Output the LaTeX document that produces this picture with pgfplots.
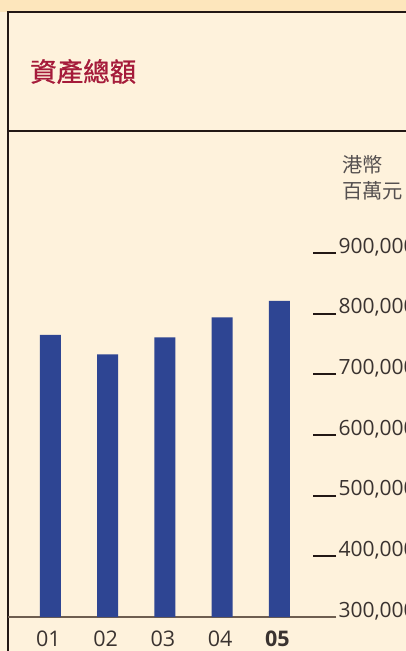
\documentclass[border=0pt]{standalone}
\usepackage{pgfplots}
\pgfplotsset{compat=1.18}
\usepackage{fontspec}
\setmainfont{Open Sans}
\newfontfamily\cjk{Noto Sans CJK TC}
\newfontfamily\cjkb[FakeBold=0.9]{Noto Sans CJK TC}
\definecolor{bgin}{HTML}{FEF2DC}
\definecolor{bgtop}{HTML}{FDE6BC}
\definecolor{frame}{HTML}{231815}
\definecolor{barblue}{HTML}{2E4593}
\definecolor{titlered}{HTML}{A51B3A}
\definecolor{axisgray}{HTML}{6E5E50}
\definecolor{txt}{HTML}{3A3330}
\definecolor{unitgray}{HTML}{555050}
\begin{document}
\begin{tikzpicture}[x=1pt,y=1pt]
\clip (0,0) rectangle (406,651);
\fill[bgin] (0,0) rectangle (406,651);
\fill[bgtop] (0,639) rectangle (406,651);
\draw[frame,line width=1.4pt] (8,0) -- (8,639) -- (406,639);
\draw[frame,line width=1.8pt] (8,520) -- (406,520);
\node[anchor=west,inner sep=0,text=titlered,font=\cjkb\fontsize{26.5}{30}\selectfont] at (30,579.5) {資產總額};
\node[anchor=north west,inner sep=0,text=unitgray,align=left,font=\cjk\fontsize{20.3}{26.5}\selectfont] at (342,496) {港幣\\百萬元};
\begin{axis}[
  at={(8pt,34pt)}, anchor=south west,
  scale only axis, width=328pt, height=364pt,
  xmin=-0.742, xmax=4.987, ymin=300000, ymax=900000,
  axis x line=bottom, axis y line=right,
  x axis line style={draw=axisgray,line width=1.3pt,-},
  y axis line style={draw=none},
  xtick={0,1,2,3,4},
  xticklabels={01,02,03,04,\textbf{05}},
  major x tick style={draw=none},
  xticklabel style={anchor=base,yshift=-29pt,xshift=-2pt,text=txt,font=\fontsize{21.5}{24}\selectfont},
  ytick={300000,400000,500000,600000,700000,800000,900000},
  yticklabels={{300,000},{400,000},{500,000},{600,000},{700,000},{800,000},{900,000}},
  tick align=inside, major tick length=23pt,
  major y tick style={draw=frame,line width=1.8pt},
  yticklabel style={anchor=base west,xshift=-1pt,text=txt,font=\fontsize{21}{24}\selectfont},
  clip=false,
]
\addplot[ybar,bar width=21pt,fill=barblue,draw=none] coordinates {(0,765000) (1,733000) (2,761000) (3,794000) (4,821000)};
\end{axis}
\end{tikzpicture}
\end{document}
